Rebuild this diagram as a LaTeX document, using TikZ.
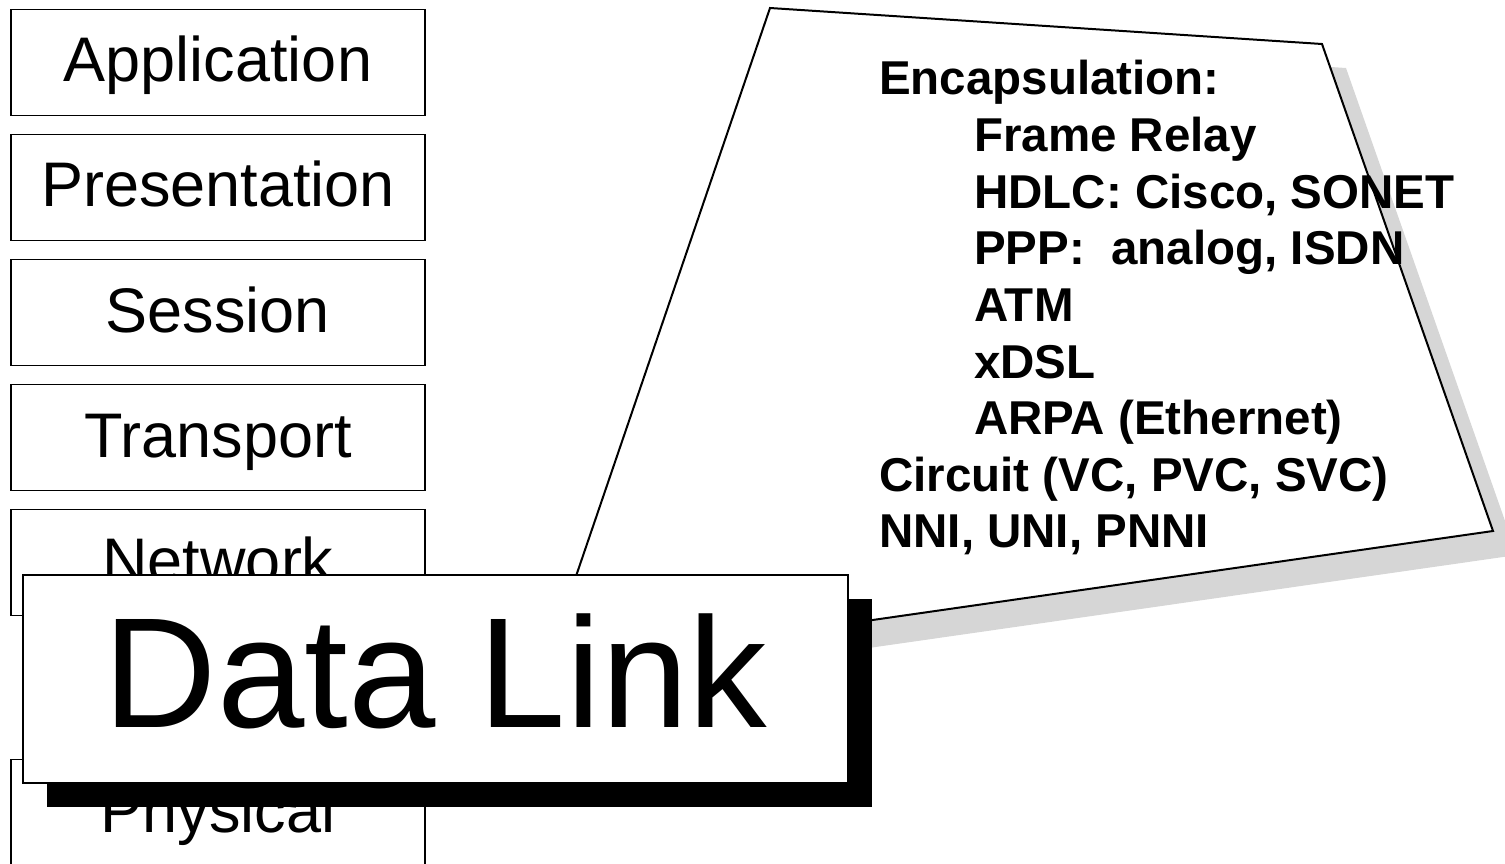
\documentclass[tikz,border=0pt]{standalone}
\usepackage{fontspec}
\setmainfont{Liberation Sans}
\usetikzlibrary{shadows}
\definecolor{shadowgray}{RGB}{214,214,214}
\begin{document}
\begin{tikzpicture}[x=1pt,y=-1pt,
  layer/.style={draw=black, line width=1.3pt, fill=white,
    minimum width=414pt, minimum height=106pt, inner sep=0pt,
    text height=59pt, text depth=20pt, font=\fontsize{63}{70}\selectfont},
  bigbox/.style={draw=black, line width=1.5pt, fill=white,
    minimum width=825pt, minimum height=208pt, inner sep=0pt,
    text height=140pt, text depth=44pt, font=\fontsize{157}{170}\selectfont,
    drop shadow={shadow xshift=24pt, shadow yshift=-24pt, fill=black, opacity=1}},
  calltext/.style={anchor=base west, inner sep=0pt,
    font=\bfseries\fontsize{47.5}{55}\selectfont},
  callout/.style={draw=black, line width=2pt, fill=white, line join=miter}]
\useasboundingbox (0,0) rectangle (1505,864);

% callout outline and its shadow
\coordinate (c1) at (770,8);
\coordinate (c2) at (1322,44);
\coordinate (c3) at (1493,531);
\coordinate (c4) at (545,667);
\fill[shadowgray] ([shift={(24,24)}]c1) -- ([shift={(24,24)}]c2)
  -- ([shift={(24,24)}]c3) -- ([shift={(24,24)}]c4) -- cycle;
\draw[callout] (c1) -- (c2) -- (c3) -- (c4) -- cycle;

% callout text
\node[calltext] (enc)  at (879,95)    {Encapsulation:};
\node[calltext] (fr)   at (974,151.6) {Frame Relay};
\node[calltext] (hdlc) at (974,208.2) {HDLC: Cisco, SONET};
\node[calltext] (ppp)  at (974,264.8) {PPP:\ \ analog, ISDN};
\node[calltext] (atm)  at (974,321.4) {ATM};
\node[calltext] (xdsl) at (974,378)   {xDSL};
\node[calltext] (arpa) at (974,434.6) {ARPA (Ethernet)};
\node[calltext] (circ) at (879,491.2) {Circuit (VC, PVC, SVC)};
\node[calltext] (nni)  at (879,547.8) {NNI, UNI, PNNI};

% OSI layer stack
\node[layer] (app)  at (218,62.5)  {Application};
\node[layer] (pres) at (218,187.5) {Presentation};
\node[layer] (sess) at (218,312.5) {Session};
\node[layer] (trans) at (218,437.5) {Transport};
\node[layer] (net)  at (218,562.5) {Network};
\node[layer] (phys) at (218,812.5) {Physical};

% highlighted layer
\node[bigbox] (dl) at (435.5,679) {Data Link};
\end{tikzpicture}
\end{document}
